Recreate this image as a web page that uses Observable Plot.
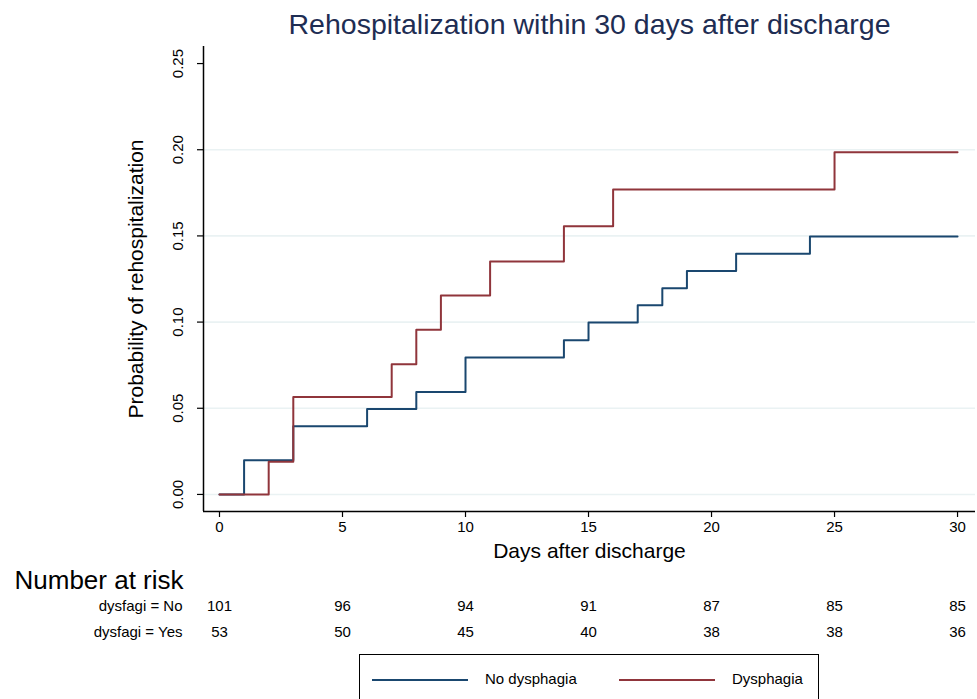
<!DOCTYPE html>
<html>
<head>
<meta charset="utf-8">
<script src="https://cdn.jsdelivr.net/npm/d3@7"></script>
<script src="https://cdn.jsdelivr.net/npm/@observablehq/plot@0.6"></script>
<style>
  html, body { margin: 0; padding: 0; background: #fff; }
  #wrap { position: relative; width: 977px; height: 699px; overflow: hidden; background: #fff;
          font-family: "Liberation Sans", Arial, sans-serif; }
  #wrap svg { position: absolute; left: 0; top: 0; }
  #legend { position: absolute; left: 359px; top: 654px; width: 460px; height: 70px;
            border: 1px solid #000; box-sizing: border-box; background: #fff; }
  .lg-line { position: absolute; top: 24px; width: 96px; height: 2px; }
  .lg-text { position: absolute; top: 15px; font-size: 15px; line-height: 18px; color: #000; }
</style>
</head>
<body>
<div id="wrap"></div>
<script>
// ---- data ----
const noTimes  = [0, 1, 3, 6, 8, 10, 14, 15, 17, 18, 19, 21, 24, 30];
const noProb   = [0, 0.0198, 0.0396, 0.0495, 0.0594, 0.0795, 0.0895, 0.0997, 0.1097, 0.1197, 0.1297, 0.1397, 0.1497, 0.1497];
const yesTimes = [0, 2, 3, 7, 8, 9, 11, 14, 16, 25, 30];
const yesProb  = [0, 0.0189, 0.0566, 0.0755, 0.0955, 0.1154, 0.1352, 0.1556, 0.1769, 0.1985, 0.1985];
const xTicks   = [0, 5, 10, 15, 20, 25, 30];
const yTicks   = [0, 0.05, 0.10, 0.15, 0.20, 0.25];
const yGrid    = [0, 0.05, 0.10, 0.15, 0.20];
const riskTimes = [0, 5, 10, 15, 20, 25, 30];
const riskNo   = [101, 96, 94, 91, 87, 85, 85];
const riskYes  = [53, 50, 45, 40, 38, 38, 36];
const groupNames = ["No dysphagia", "Dysphagia"];
const groupColors = ["#1a476f", "#90353b"];

const series = [
  ...noTimes.map((t, i) => ({t, p: noProb[i], g: groupNames[0]})),
  ...yesTimes.map((t, i) => ({t, p: yesProb[i], g: groupNames[1]}))
];

const xDomain = [-0.65, 30.73];
const yDomain = [-0.0099, 0.2599];

const mid = {textAnchor: "middle", lineAnchor: "middle", fill: "#000"};

const chart = Plot.plot({
  width: 977,
  height: 699,
  marginLeft: 203,
  marginRight: 2,
  marginTop: 46,
  marginBottom: 188,
  style: {fontFamily: "'Liberation Sans', Arial, sans-serif", background: "transparent", color: "#000"},
  x: {domain: xDomain},
  y: {domain: yDomain},
  color: {domain: groupNames, range: groupColors},
  marks: [
    Plot.gridY({ticks: yGrid, stroke: "#eaf2f3", strokeOpacity: 1, strokeWidth: 1.6}),
    Plot.line(series, {x: "t", y: "p", z: "g", stroke: "g", curve: "step-after", strokeWidth: 2}),
    Plot.ruleX([xDomain[0]], {stroke: "#000", strokeWidth: 1.5}),
    Plot.ruleY([yDomain[0]], {stroke: "#000", strokeWidth: 1.5}),
    Plot.axisX({ticks: xTicks, tickSize: 6, tickPadding: 4, fontSize: 15, label: null, strokeWidth: 1.2}),
    Plot.axisY({ticks: yTicks, tickSize: 6, tickFormat: () => "", label: null, strokeWidth: 1.2}),
    Plot.text(yTicks, {...mid, y: d => d, text: d => d.toFixed(2), frameAnchor: "left", dx: -25, rotate: -90, fontSize: 15}),
    Plot.text(["Probability of rehospitalization"], {...mid, frameAnchor: "left", dx: -67, rotate: -90, fontSize: 21}),
    Plot.text(["Days after discharge"], {...mid, frameAnchor: "bottom", dy: 40, fontSize: 21}),
    Plot.text(["Rehospitalization within 30 days after discharge"], {...mid, frameAnchor: "top", dy: -22, fontSize: 28.5, fill: "#1e2d53"}),
    Plot.text(["Number at risk"], {...mid, frameAnchor: "bottom-left", dx: -189, dy: 69, textAnchor: "start", fontSize: 26}),
    Plot.text(["dysfagi = No"], {...mid, frameAnchor: "bottom-left", dx: -21, dy: 95, textAnchor: "end", fontSize: 15}),
    Plot.text(["dysfagi = Yes"], {...mid, frameAnchor: "bottom-left", dx: -21, dy: 121, textAnchor: "end", fontSize: 15}),
    Plot.text(riskTimes, {...mid, x: d => d, text: (d, i) => String(riskNo[i]), frameAnchor: "bottom", dy: 95, fontSize: 15}),
    Plot.text(riskTimes, {...mid, x: d => d, text: (d, i) => String(riskYes[i]), frameAnchor: "bottom", dy: 121, fontSize: 15})
  ]
});

const wrap = document.getElementById("wrap");
wrap.appendChild(chart);

const legend = document.createElement("div");
legend.id = "legend";
const lineLefts = [12, 259];
const textLefts = [125, 372];
groupNames.forEach((name, i) => {
  const l = document.createElement("div");
  l.className = "lg-line";
  l.style.left = lineLefts[i] + "px";
  l.style.background = groupColors[i];
  legend.appendChild(l);
  const t = document.createElement("div");
  t.className = "lg-text";
  t.style.left = textLefts[i] + "px";
  t.textContent = name;
  legend.appendChild(t);
});
wrap.appendChild(legend);
</script>
</body>
</html>
